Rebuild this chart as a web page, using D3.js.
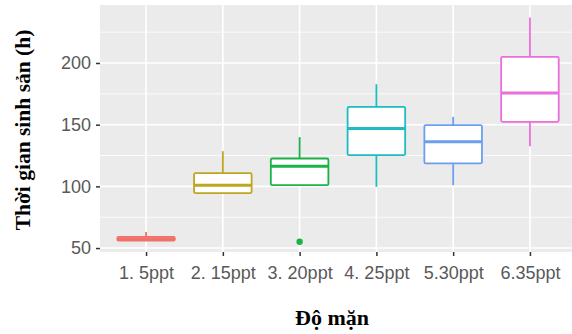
<!DOCTYPE html>
<html>
<head>
<meta charset="utf-8">
<script src="https://cdn.jsdelivr.net/npm/d3@7"></script>
<style>
  body { margin: 0; background: #fff; }
  svg { display: block; }
</style>
</head>
<body>
<div id="chart"></div>
<script>
const categories = ['1. 5ppt', '2. 15ppt', '3. 20ppt', '4. 25ppt', '5.30ppt', '6.35ppt'];
const colors = ['#F0706B', '#BFA522', '#1BB248', '#1CBDC2', '#6C9EF0', '#EC6DDC'];
const whiskerLow = [56, 94.5, 101, 99.6, 101, 132.6];
const q1 = [56, 94.5, 101, 125.3, 118.6, 152.3];
const median = [57.5, 101, 116.4, 146.9, 136.1, 175.7];
const q3 = [59, 110.7, 122.6, 164.4, 149.6, 204.9];
const whiskerHigh = [63, 128.5, 139.9, 182.8, 156.3, 236.8];
const outliers = [[], [], [55.1], [], [], []];
const yTicks = [50, 100, 150, 200];
const yMinor = [75, 125, 175, 225];

const width = 572, height = 334;
const margin = {top: 5, right: -4, bottom: 82, left: 100};
const innerW = width - margin.left - margin.right;
const innerH = height - margin.top - margin.bottom;

const svg = d3.select('#chart').append('svg')
  .attr('width', width)
  .attr('height', height);

const g = svg.append('g')
  .attr('transform', `translate(${margin.left},${margin.top})`);

const x = d3.scalePoint()
  .domain(categories)
  .range([0, innerW])
  .padding(0.6);

const y = d3.scaleLinear()
  .domain([46.8, 247])
  .range([innerH, 0]);

const boxW = x.step() * 0.75;

// panel
g.append('rect')
  .attr('width', innerW)
  .attr('height', innerH)
  .attr('fill', '#EBEBEB');

g.selectAll('.minor')
  .data(yMinor)
  .join('line')
    .attr('x1', 0).attr('x2', innerW)
    .attr('y1', d => y(d)).attr('y2', d => y(d))
    .attr('stroke', '#fff').attr('stroke-width', 0.8);

g.selectAll('.major')
  .data(yTicks)
  .join('line')
    .attr('x1', 0).attr('x2', innerW)
    .attr('y1', d => y(d)).attr('y2', d => y(d))
    .attr('stroke', '#fff').attr('stroke-width', 1.6);

g.selectAll('.vgrid')
  .data(categories)
  .join('line')
    .attr('x1', d => x(d)).attr('x2', d => x(d))
    .attr('y1', 0).attr('y2', innerH)
    .attr('stroke', '#fff').attr('stroke-width', 1.6);

// axes
const yAxis = g.append('g')
  .call(d3.axisLeft(y).tickValues(yTicks).tickSize(4).tickPadding(5));
const xAxis = g.append('g')
  .attr('transform', `translate(0,${innerH})`)
  .call(d3.axisBottom(x).tickSize(4).tickPadding(10));

[yAxis, xAxis].forEach(a => {
  a.select('.domain').remove();
  a.selectAll('.tick line').attr('stroke', '#333').attr('stroke-width', 1.5);
  a.selectAll('.tick text')
    .attr('fill', '#595959')
    .attr('font-family', '"Liberation Sans", Arial, sans-serif')
    .attr('font-size', 18);
});

// boxes
const boxes = g.selectAll('.box')
  .data(categories)
  .join('g')
    .attr('transform', d => `translate(${x(d)},0)`);

boxes.append('line')
  .attr('y1', (d, i) => y(q3[i])).attr('y2', (d, i) => y(whiskerHigh[i]))
  .attr('stroke', (d, i) => colors[i]).attr('stroke-width', 1.8);

boxes.append('line')
  .attr('y1', (d, i) => y(q1[i])).attr('y2', (d, i) => y(whiskerLow[i]))
  .attr('stroke', (d, i) => colors[i]).attr('stroke-width', 1.8);

boxes.append('rect')
  .attr('x', -boxW / 2)
  .attr('width', boxW)
  .attr('y', (d, i) => y(q3[i]))
  .attr('height', (d, i) => y(q1[i]) - y(q3[i]))
  .attr('rx', 1.5)
  .attr('fill', '#fff')
  .attr('stroke', (d, i) => colors[i])
  .attr('stroke-width', 1.8);

boxes.append('line')
  .attr('x1', -boxW / 2).attr('x2', boxW / 2)
  .attr('y1', (d, i) => y(median[i])).attr('y2', (d, i) => y(median[i]))
  .attr('stroke', (d, i) => colors[i]).attr('stroke-width', 3);

boxes.selectAll('circle')
  .data((d, i) => outliers[i].map(v => ({v, c: colors[i]})))
  .join('circle')
    .attr('cy', d => y(d.v))
    .attr('r', 3.2)
    .attr('fill', d => d.c);

// titles
svg.append('text')
  .attr('x', 332)
  .attr('y', 325)
  .attr('text-anchor', 'middle')
  .attr('font-family', '"Liberation Serif", "Times New Roman", serif')
  .attr('font-weight', 'bold')
  .attr('font-size', 22)
  .text('Độ mặn');

svg.append('text')
  .attr('transform', 'translate(30,130) rotate(-90)')
  .attr('text-anchor', 'middle')
  .attr('font-family', '"Liberation Serif", "Times New Roman", serif')
  .attr('font-weight', 'bold')
  .attr('font-size', 21.5)
  .text('Thời gian sinh sản (h)');
</script>
</body>
</html>
